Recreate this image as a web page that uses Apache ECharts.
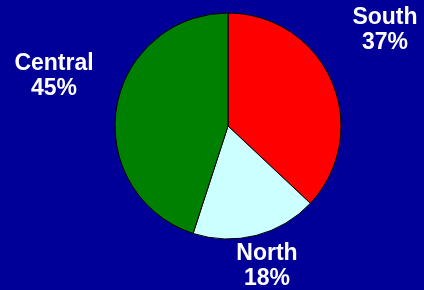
<!DOCTYPE html>
<html>
<head>
<meta charset="utf-8">
<script src="https://cdn.jsdelivr.net/npm/echarts@6/dist/echarts.min.js"></script>
<style>
  html, body { margin: 0; padding: 0; background: #000099; }
  #chart { width: 424px; height: 290px; }
</style>
</head>
<body>
<div id="chart"></div>
<script>
// region shares, in percent (clockwise from 12 o'clock)
const regions = ['South', 'North', 'Central'];
const shares = [37, 18, 45];
const sliceColors = ['#ff0000', '#ccffff', '#008000'];

// where each label block sits (centre of the two lines)
const labelPos = [[385, 30], [267, 266], [54, 76]];

const chart = echarts.init(document.getElementById('chart'));

chart.setOption({
  backgroundColor: '#000099',
  animation: false,
  series: [{
    type: 'pie',
    center: [228, 126],
    radius: 113,
    startAngle: 90,
    clockwise: true,
    silent: true,
    data: regions.map((name, i) => ({
      name: name,
      value: shares[i],
      itemStyle: { color: sliceColors[i] }
    })),
    itemStyle: { borderColor: '#000', borderWidth: 1 },
    label: {
      show: true,
      position: 'inside',
      overflow: 'none',
      formatter: (p) => p.name + '\n' + p.value + '%',
      color: '#fff',
      fontFamily: 'Liberation Sans, Arial, sans-serif',
      fontWeight: 'bold',
      fontSize: 23,
      lineHeight: 25,
      align: 'center'
    },
    labelLine: { show: false },
    labelLayout: (params) => ({
      x: labelPos[params.dataIndex][0],
      y: labelPos[params.dataIndex][1],
      align: 'center',
      verticalAlign: 'middle'
    })
  }]
});
</script>
</body>
</html>
